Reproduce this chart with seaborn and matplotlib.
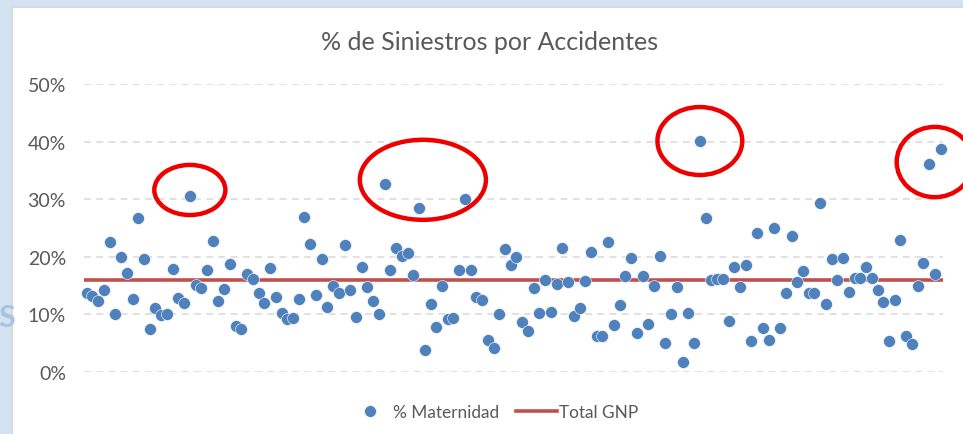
import numpy as np
import pandas as pd
import matplotlib
matplotlib.use("Agg")
import matplotlib.pyplot as plt
import seaborn as sns
from matplotlib.patches import Ellipse, Rectangle
from matplotlib.lines import Line2D

# % Maternidad values (percent) left to right
maternidad = [
    13.8, 13.2, 12.4, 14.2, 22.6, 10.0, 20.0, 17.2, 12.7, 26.7,
    19.7, 7.5, 11.1, 9.9, 10.1, 17.8, 12.8, 12.0, 30.6, 15.1,
    14.6, 17.7, 22.7, 12.3, 14.4, 18.8, 8.0, 7.5, 17.0, 16.1,
    13.7, 12.0, 18.1, 13.0, 10.2, 9.2, 9.3, 12.7, 26.9, 22.2,
    13.3, 19.7, 11.3, 14.9, 13.7, 22.0, 14.3, 9.5, 18.2, 14.7,
    12.3, 10.0, 32.6, 17.7, 21.5, 20.2, 20.6, 16.8, 28.5, 3.8,
    11.8, 7.8, 14.9, 9.2, 9.4, 17.7, 30.0, 17.7, 13.1, 12.5,
    5.6, 4.2, 10.0, 21.4, 18.5, 20.0, 8.6, 7.1, 14.6, 10.2,
    15.9, 10.5, 15.3, 21.5, 15.6, 9.8, 11.1, 15.8, 20.9, 6.3,
    6.3, 22.6, 8.2, 11.7, 16.7, 19.8, 6.7, 16.7, 8.3, 15.0,
    20.1, 5.0, 10.1, 14.8, 1.7, 10.2, 5.1, 40.1, 26.7, 16.0,
    16.1, 16.1, 8.9, 18.2, 14.7, 18.5, 5.4, 24.1, 7.6, 5.6,
    25.0, 7.6, 13.7, 23.6, 15.6, 17.5, 13.7, 13.7, 29.4, 11.8,
    19.7, 16.0, 19.8, 13.9, 16.4, 16.4, 18.3, 16.4, 14.2, 12.1,
    5.4, 12.5, 23.0, 6.3, 4.8, 14.9, 19.0, 36.1, 17.0, 38.8,
]
total_gnp = 16.0
y_ticks = [0, 10, 20, 30, 40, 50]
y_tick_labels = ["0%", "10%", "20%", "30%", "40%", "50%"]

# outliers circled in red: (point indices, width in points, height in %, vertical shift in %)
circled = [
    ([18], 12.4, 8.7, 1.0),
    ([52, 58, 66], 22.0, 13.9, 3.0),
    ([107], 14.8, 11.8, 0.0),
    ([147, 149], 13.3, 12.2, -1.0),
]

df = pd.DataFrame({"idx": np.arange(len(maternidad)), "pct": maternidad})

text_col = "#595959"
plt.rcParams["font.family"] = ["Lato", "DejaVu Sans"]

W, H = 963, 435
fig = plt.figure(figsize=(W / 100, H / 100), dpi=100)
fig.patch.set_facecolor("#D3E3F2")
# white chart area with thin grey border (kept behind the axes)
fig.patches.append(Rectangle((12 / W, -0.01), 1.0, (H - 8) / H + 0.01,
                             transform=fig.transFigure, facecolor="white",
                             edgecolor="#D9D9D9", linewidth=1.5, zorder=-10))
fig.text(-2 / W, 1 - 318 / H, "S", color="#A9C4DE", fontsize=22,
         fontweight="bold", ha="left", va="center", zorder=-5)

ax = fig.add_axes([84 / W, 62 / H, (943 - 84) / W, (373 - 85) / H])
ax.set_zorder(1)
ax.set_facecolor("none")

sns.scatterplot(data=df, x="idx", y="pct", ax=ax, color="#4F81BD", s=74,
                edgecolor="white", linewidth=0.4, zorder=3, clip_on=False,
                legend=False)
ax.axhline(total_gnp, color="#C0504D", linewidth=2.6, zorder=2)

for idxs, w, h, dy in circled:
    cx = np.mean(idxs)
    cy = np.mean([maternidad[i] for i in idxs]) + dy
    ax.add_patch(Ellipse((cx, cy), w, h, fill=False, edgecolor="#EE0000",
                         linewidth=3.2, zorder=4, clip_on=False))

ax.set_xlim(-0.47, 149.43)
ax.set_ylim(0, 50)
ax.set_yticks(y_ticks)
ax.set_yticklabels(y_tick_labels)
ax.set_xticks([])
ax.set_xlabel("")
ax.set_ylabel("")
ax.tick_params(axis="y", length=0, pad=13, labelsize=14, labelcolor=text_col)
ax.yaxis.grid(True, color="#D9D9D9", linewidth=1.1, linestyle=(0, (4.5, 3.5)))
ax.set_axisbelow(True)
for sp in ax.spines.values():
    sp.set_visible(False)

fig.text(490 / W, 1 - 43 / H, "% de Siniestros por Accidentes", ha="center",
         va="center", fontsize=18, color=text_col)

handles = [
    Line2D([], [], marker="o", linestyle="none", color="#4F81BD",
           markersize=8.5, markeredgecolor="white", markeredgewidth=0.4),
    Line2D([], [], color="#C0504D", linewidth=2.6),
]
fig.legend(handles, ["% Maternidad", "Total GNP"], loc="center",
           bbox_to_anchor=(494 / W, 22 / H), ncol=2, frameon=False,
           fontsize=12.4, labelcolor=text_col, handlelength=2.4,
           handletextpad=0.1, columnspacing=1.0)

fig.savefig("out.png", dpi=100)
